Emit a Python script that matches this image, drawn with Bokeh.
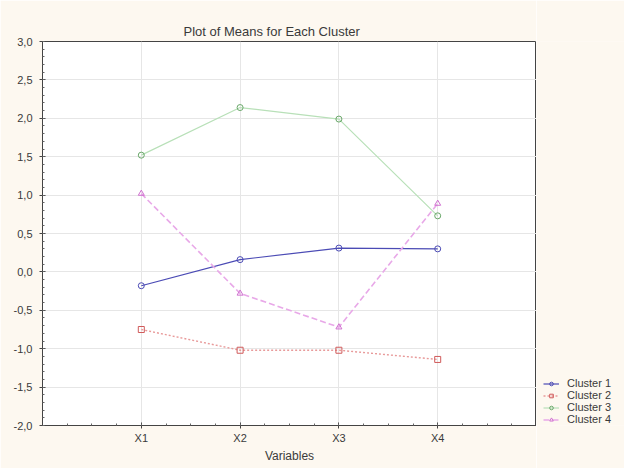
from bokeh.plotting import figure
from bokeh.layouts import row
from bokeh.models import (FixedTicker, CustomJSTickFormatter, Legend, LegendItem,
                          ColumnDataSource, Range1d)
from bokeh.embed import file_html
from bokeh.resources import INLINE

variables = ["X1", "X2", "X3", "X4"]
cluster1 = [-0.18, 0.16, 0.31, 0.30]
cluster2 = [-0.75, -1.02, -1.02, -1.14]
cluster3 = [1.52, 2.14, 1.99, 0.73]
cluster4 = [1.02, -0.28, -0.72, 0.89]
series_names = ["Cluster 1", "Cluster 2", "Cluster 3", "Cluster 4"]
y_ticks = [-2.0, -1.5, -1.0, -0.5, 0.0, 0.5, 1.0, 1.5, 2.0, 2.5, 3.0]

FONT = "Liberation Sans"
TXT = "#3a3a3a"
BG = "#FDF8F0"

p = figure(width=536, height=468, x_range=Range1d(0, 5), y_range=Range1d(-2, 3),
           output_backend="svg", toolbar_location=None,
           min_border_left=42, min_border_top=41, min_border_right=0, min_border_bottom=43,
           title="Plot of Means for Each Cluster")
p.border_fill_color = BG
p.background_fill_color = "white"
p.outline_line_color = "#444444"
p.outline_line_width = 1

p.title.text_font = FONT
p.title.text_font_size = "13px"
p.title.text_font_style = "normal"
p.title.text_color = TXT
p.title.align = "left"
p.title.offset = 141
p.title.standoff = 6

xpos = [i + 1 for i in range(len(variables))]

p.xaxis.ticker = FixedTicker(ticks=xpos, minor_ticks=[0.25 * i for i in range(21)])
p.xaxis.major_label_overrides = {x: v for x, v in zip(xpos, variables)}
p.xaxis.axis_label = "Variables"
p.yaxis.ticker = FixedTicker(ticks=y_ticks,
                             minor_ticks=[-2 + 0.1 * i for i in range(51)])
p.yaxis.formatter = CustomJSTickFormatter(code="return tick.toFixed(1).replace('.', ',');")

for ax in (p.xaxis[0], p.yaxis[0]):
    ax.axis_line_color = "#444444"
    ax.major_tick_line_color = "#444444"
    ax.minor_tick_line_color = "#666666"
    ax.major_tick_in = 3
    ax.major_tick_out = 3
    ax.minor_tick_in = 2
    ax.minor_tick_out = 0
    ax.major_label_text_font = FONT
    ax.major_label_text_font_size = "11px"
    ax.major_label_text_color = TXT
    ax.axis_label_text_font = FONT
    ax.axis_label_text_font_size = "12px"
    ax.axis_label_text_font_style = "normal"
    ax.axis_label_text_color = TXT
p.yaxis.major_label_standoff = 7
p.xaxis.major_label_standoff = 3
p.xaxis.axis_label_standoff = 2

p.xgrid.ticker = FixedTicker(ticks=xpos)
p.xgrid.grid_line_color = "#e6e6e6"
p.ygrid.grid_line_color = "#e6e6e6"
p.ygrid.minor_grid_line_color = None

styles = [
    dict(line="#4b4bb5", mk="#4b4bb5", dash="solid", marker="circle", lw=1.2),
    dict(line="#e89a9a", mk="#d05a5a", dash="2 2", marker="square", lw=1.4),
    dict(line="#b8e0b8", mk="#6aa86a", dash="solid", marker="circle", lw=1.2),
    dict(line="#e8a8e8", mk="#d070d0", dash="6 3", marker="triangle", lw=1.6),
]
data = [cluster1, cluster2, cluster3, cluster4]

# legend lives in a narrow side figure; its key renderers share the data but are
# out of that figure's view, so only the legend keys show
lf = figure(width=88, height=468, x_range=Range1d(100, 101), y_range=Range1d(100, 101),
            output_backend="svg", toolbar_location=None,
            x_axis_location=None, y_axis_location=None,
            min_border_left=0, min_border_right=0, min_border_top=0, min_border_bottom=0)
lf.grid.visible = False
lf.outline_line_color = None
lf.border_fill_color = BG
lf.background_fill_color = BG

items = []
for name, ys, st in zip(series_names, data, styles):
    src = ColumnDataSource(dict(x=xpos, y=ys))
    p.line("x", "y", source=src, line_color=st["line"], line_width=st["lw"],
           line_dash=st["dash"])
    p.scatter("x", "y", source=src, marker=st["marker"], size=6,
              fill_color=None, line_color=st["mk"], line_width=1)
    kl = lf.line("x", "y", source=src, line_color=st["line"], line_width=st["lw"],
                 line_dash=st["dash"])
    km = lf.scatter("x", "y", source=src, marker=st["marker"], size=6,
                    fill_color=None, line_color=st["mk"], line_width=1)
    items.append(LegendItem(label=name, renderers=[kl, km]))

legend = Legend(items=items, location=(7, 0))
legend.label_text_font = FONT
legend.label_text_font_size = "11px"
legend.label_text_color = TXT
legend.glyph_height = 9
legend.glyph_width = 16
legend.label_height = 9
legend.label_standoff = 8
legend.spacing = -6
legend.padding = 0
legend.margin = 0
legend.border_line_color = None
legend.background_fill_alpha = 0
lf.add_layout(legend)

layout = row(p, lf, spacing=0)
open("out.html", "w").write(file_html(layout, INLINE))
